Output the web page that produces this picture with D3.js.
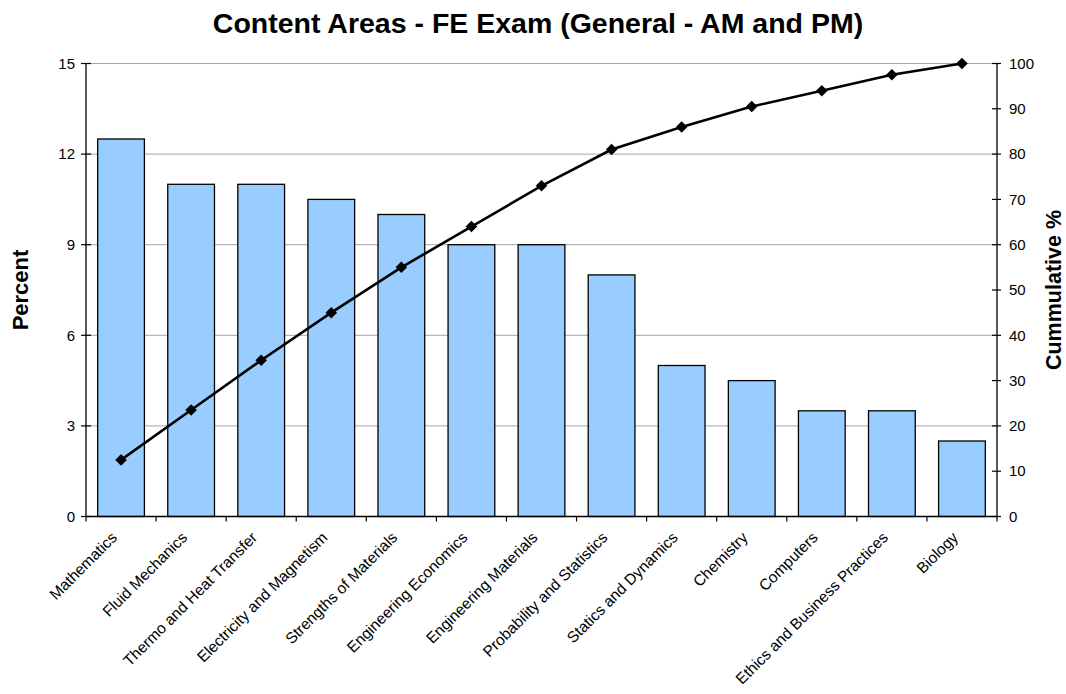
<!DOCTYPE html>
<html><head><meta charset="utf-8">
<script src="https://cdn.jsdelivr.net/npm/d3@7"></script>
<style>body{margin:0;background:#fff;}svg{display:block;font-family:"Liberation Sans",Arial,sans-serif;}</style>
</head><body>
<script>
const categories = ["Mathematics","Fluid Mechanics","Thermo and Heat Transfer","Electricity and Magnetism","Strengths of Materials","Engineering Economics","Engineering Materials","Probability and Statistics","Statics and Dynamics","Chemistry","Computers","Ethics and Business Practices","Biology"];
const percent = [12.5,11,11,10.5,10,9,9,8,5,4.5,3.5,3.5,2.5];
const cumulative = [12.5,23.5,34.5,45,55,64,73,81,86,90.5,94,97.5,100];
const leftTicks = [0,3,6,9,12,15];
const rightTicks = [0,10,20,30,40,50,60,70,80,90,100];

const W=1066,H=694;
const m={left:86,right:997,top:63.5,bottom:516.5};
const svg=d3.select("body").append("svg").attr("width",W).attr("height",H);

const x=d3.scaleBand().domain(categories).range([m.left,m.right]).paddingInner(0.333).paddingOuter(0.1665);
const xb=d3.scaleBand().domain(categories).range([m.left,m.right]);
const y=d3.scaleLinear().domain([0,15]).range([m.bottom,m.top]);
const y2=d3.scaleLinear().domain([0,100]).range([m.bottom,m.top]);

// gridlines
svg.append("g").selectAll("line").data(leftTicks.filter(d=>d>0)).join("line")
  .attr("x1",m.left).attr("x2",m.right).attr("y1",d=>y(d)).attr("y2",d=>y(d))
  .attr("stroke","#a6a6a6").attr("stroke-width",1);

// bars
svg.append("g").selectAll("rect").data(percent).join("rect")
  .attr("x",(d,i)=>x(categories[i])).attr("width",x.bandwidth())
  .attr("y",d=>y(d)).attr("height",d=>y(0)-y(d))
  .attr("fill","#99ccff").attr("stroke","#000").attr("stroke-width",1.3);

// left axis
const gl=svg.append("g").attr("transform",`translate(${m.left},0)`);
gl.append("line").attr("x1",0).attr("x2",0).attr("y1",m.top).attr("y2",m.bottom).attr("stroke","#000").attr("stroke-width",1.3);
gl.selectAll("line.t").data(leftTicks).join("line").attr("class","t")
  .attr("x1",-5).attr("x2",5).attr("y1",d=>y(d)).attr("y2",d=>y(d)).attr("stroke","#000").attr("stroke-width",1.2);
gl.selectAll("text").data(leftTicks).join("text")
  .attr("x",-11).attr("y",d=>y(d)).attr("dy","0.35em").attr("text-anchor","end")
  .attr("font-size",15).text(d=>d);

// right axis
const gr=svg.append("g").attr("transform",`translate(${m.right},0)`);
gr.append("line").attr("x1",0).attr("x2",0).attr("y1",m.top).attr("y2",m.bottom).attr("stroke","#000").attr("stroke-width",1.3);
gr.selectAll("line.t").data(rightTicks).join("line").attr("class","t")
  .attr("x1",-5).attr("x2",4).attr("y1",d=>y2(d)).attr("y2",d=>y2(d)).attr("stroke","#000").attr("stroke-width",1.2);
gr.selectAll("text").data(rightTicks).join("text")
  .attr("x",12).attr("y",d=>y2(d)).attr("dy","0.35em").attr("text-anchor","start")
  .attr("font-size",15).text(d=>d);

// bottom axis
const gb=svg.append("g");
gb.append("line").attr("x1",m.left).attr("x2",m.right).attr("y1",m.bottom).attr("y2",m.bottom).attr("stroke","#000").attr("stroke-width",1.3);
const bTicks=categories.map(c=>xb(c)).concat([m.right]);
gb.selectAll("line.t").data(bTicks).join("line").attr("class","t")
  .attr("x1",d=>d).attr("x2",d=>d).attr("y1",m.bottom).attr("y2",m.bottom+5).attr("stroke","#000").attr("stroke-width",1.2);
gb.selectAll("text").data(categories).join("text")
  .attr("transform",c=>`translate(${xb(c)+xb.bandwidth()/2-3},${m.bottom+22}) rotate(-45)`)
  .attr("text-anchor","end").attr("font-size",15.5).text(c=>c);

// cumulative line
const line=d3.line().x((d,i)=>xb(categories[i])+xb.bandwidth()/2).y(d=>y2(d));
svg.append("path").datum(cumulative).attr("d",line).attr("fill","none").attr("stroke","#000").attr("stroke-width",2.6);
svg.append("g").selectAll("path").data(cumulative).join("path")
  .attr("d",d3.symbol(d3.symbolDiamond2,85))
  .attr("transform",(d,i)=>`translate(${xb(categories[i])+xb.bandwidth()/2},${y2(d)})`)
  .attr("fill","#000");

// titles
svg.append("text").attr("x",538).attr("y",33).attr("text-anchor","middle").attr("font-size",28.5).attr("font-weight","bold")
  .text("Content Areas - FE Exam (General - AM and PM)");
svg.append("text").attr("transform","translate(28,290) rotate(-90)").attr("text-anchor","middle").attr("font-size",22).attr("font-weight","bold").text("Percent");
svg.append("text").attr("transform","translate(1061,290) rotate(-90)").attr("text-anchor","middle").attr("font-size",21.5).attr("font-weight","bold").text("Cummulative %");
</script>
</body></html>
